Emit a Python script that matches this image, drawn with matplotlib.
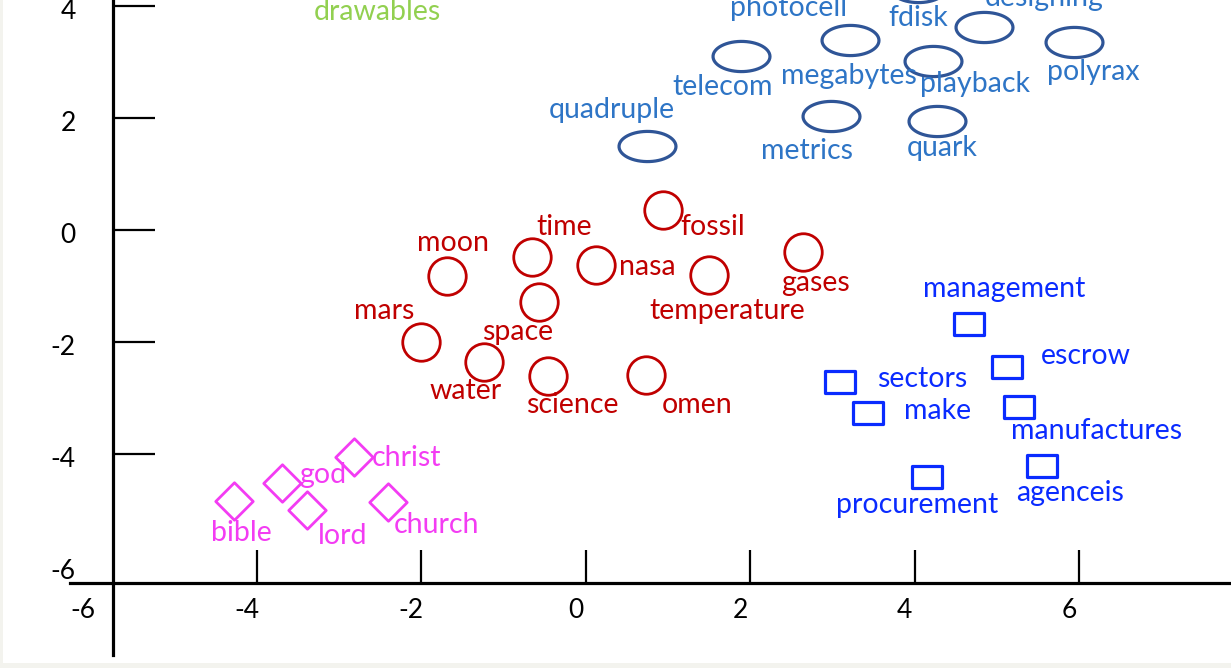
import matplotlib

matplotlib.use("Agg")
import matplotlib.pyplot as plt  # noqa: E402
import matplotlib.transforms as mtransforms  # noqa: E402
import numpy as np  # noqa: E402
from matplotlib.path import Path  # noqa: E402

plt.rcParams["font.family"] = ["Lato", "DejaVu Sans"]

# --- data ---
tech_words = ["photocell", "fdisk", "designing", "telecom", "megabytes", "playback",
              "polyrax", "quadruple", "metrics", "quark"]
tech_x = [2.48, 4.04, 4.84, 1.89, 3.21, 4.23, 5.94, 0.74, 2.98, 4.27]
tech_y = [4.73, 4.34, 3.63, 3.11, 3.39, 3.02, 3.36, 1.50, 2.04, 1.95]
tech_lx = [2.47, 4.04, 5.58, 1.66, 3.20, 4.73, 6.17, 0.32, 2.69, 4.34]
tech_ly = [3.96, 3.79, 4.14, 2.55, 2.75, 2.61, 2.82, 2.14, 1.41, 1.46]

space_words = ["fossil", "time", "moon", "nasa", "temperature", "gases", "space",
               "mars", "water", "science", "omen"]
space_x = [0.94, -0.65, -1.69, 0.13, 1.50, 2.64, -0.57, -2.00, -1.24, -0.46, 0.73]
space_y = [0.36, -0.48, -0.82, -0.63, -0.80, -0.39, -1.29, -2.00, -2.36, -2.61, -2.59]
space_lx = [1.55, -0.26, -1.62, 0.75, 1.72, 2.79, -0.83, -2.45, -1.46, -0.16, 1.36]
space_ly = [0.05, 0.05, -0.23, -0.66, -1.45, -0.95, -1.82, -1.45, -2.88, -3.13, -3.13]

biz_words = ["management", "escrow", "sectors", "make", "manufactures", "agenceis",
             "procurement"]
biz_x = [4.66, 5.13, 3.09, 3.43, 5.27, 5.55, 4.15]
biz_y = [-1.68, -2.45, -2.71, -3.27, -3.16, -4.21, -4.41]
biz_lx = [5.09, 6.08, 4.09, 4.28, 6.22, 5.89, 4.03]
biz_ly = [-1.05, -2.25, -2.66, -3.23, -3.59, -4.70, -4.91]

rel_words = ["christ", "god", "bible", "lord", "church"]
rel_x = [-2.82, -3.70, -4.28, -3.39, -2.41]
rel_y = [-4.05, -4.52, -4.84, -5.00, -4.86]
rel_lx = [-2.18, -3.20, -4.19, -2.96, -1.81]
rel_ly = [-4.07, -4.38, -5.41, -5.46, -5.27]

other_words = ["drawables"]
other_lx = [-2.53]
other_ly = [3.89]

xticks = [-6, -4, -2, 0, 2, 4, 6]
yticks = [-6, -4, -2, 0, 2, 4]

# --- marker shapes ---
t = np.linspace(0, 2 * np.pi, 60)
ellipse = Path(np.column_stack([np.cos(t), 0.53 * np.sin(t)]), closed=True)
rect = Path([(-1, -0.7), (1, -0.7), (1, 0.7), (-1, 0.7), (-1, -0.7)], closed=True)
diamond = Path([(0, -1), (1, 0), (0, 1), (-1, 0), (0, -1)], closed=True)

fig = plt.figure(figsize=(12.31, 6.68), dpi=100, facecolor="#F3F3EE")
ax = fig.add_axes([3 / 1231, 5 / 668, 1228 / 1231, 663 / 668])
ax.set_xlim(-7.09, 7.85)
ax.set_ylim(-7.73, 4.11)

fs = 20.5
groups = [
    (tech_x, tech_y, tech_lx, tech_ly, tech_words, ellipse, 41, 2.3, "#2F5597", "#2E75C6"),
    (space_x, space_y, space_lx, space_ly, space_words, "o", 27, 2.0, "#C00000", "#C00000"),
    (biz_x, biz_y, biz_lx, biz_ly, biz_words, rect, 22, 2.3, "#0A2BFF", "#0A2BFF"),
    (rel_x, rel_y, rel_lx, rel_ly, rel_words, diamond, 27, 2.0, "#F33CF3", "#F33CF3"),
]
for mx, my, lx, ly, words, mk, ms, mew, mc, tc in groups:
    ax.plot(mx, my, ls="none", marker=mk, ms=ms, mew=mew, mec=mc, mfc="none")
    for w, x, y in zip(words, lx, ly):
        ax.text(x, y, w, color=tc, fontsize=fs, ha="center", va="center")
for w, x, y in zip(other_words, other_lx, other_ly):
    ax.text(x, y, w, color="#92D050", fontsize=fs, ha="center", va="center")

# axes drawn through the data like the original sketch
for side in ["top", "right"]:
    ax.spines[side].set_visible(False)
ax.spines["left"].set_position(("data", -5.75))
ax.spines["left"].set_bounds(-7.59, 4.11)
ax.spines["bottom"].set_position(("data", -6.30))
ax.spines["bottom"].set_bounds(-6.28, 7.85)
for s in ["left", "bottom"]:
    ax.spines[s].set_linewidth(2.3)

ax.set_xticks(xticks)
ax.set_xticklabels([str(v) for v in xticks])
ax.set_yticks(yticks)
ax.set_yticklabels([str(v) for v in yticks])
ax.tick_params(axis="x", direction="in", length=24, width=1.6, pad=11, labelsize=19)
ax.tick_params(axis="y", direction="in", length=30, width=1.6, pad=27, labelsize=19)
ax.xaxis.get_major_ticks()[0].tick1line.set_visible(False)
ax.yaxis.get_major_ticks()[0].tick1line.set_visible(False)

# labels in the sketch sit a little off their tick marks
dx = mtransforms.ScaledTranslation(-10 / 100, 0, fig.dpi_scale_trans)
dy = mtransforms.ScaledTranslation(0, -3 / 100, fig.dpi_scale_trans)
for lab in ax.get_xticklabels():
    lab.set_transform(lab.get_transform() + dx)
for lab in ax.get_yticklabels():
    lab.set_transform(lab.get_transform() + dy)

fig.savefig("out.png", dpi=100, facecolor=fig.get_facecolor())
